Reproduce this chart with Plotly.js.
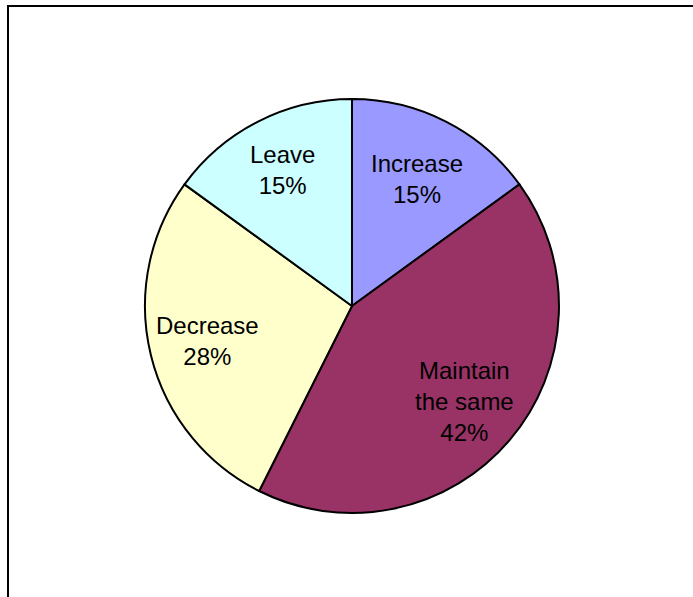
<!DOCTYPE html>
<html>
<head>
<meta charset="utf-8">
<script src="https://cdn.plot.ly/plotly-3.0.1.min.js"></script>
<style>
html,body{margin:0;padding:0;background:#fff;}
#chart{width:693px;height:597px;}
</style>
</head>
<body>
<div id="chart"></div>
<script>
var categories = ["Increase", "Maintain<br>the same", "Decrease", "Leave"];
var values = [15, 42.4, 27.6, 15];
var percentLabels = ["15%", "42%", "28%", "15%"];
var colors = ["#9999FF", "#993366", "#FFFFCC", "#CCFFFF"];

var W = 693, H = 597;
var dom = {x: [0.2092, 0.8066], y: [0.1407, 0.8342]};
var labelRadius = [0.69, 0.71, 0.72, 0.735];

var trace = {
  type: "pie",
  labels: categories,
  values: values,
  sort: false,
  direction: "clockwise",
  rotation: 0,
  marker: {colors: colors, line: {color: "#000000", width: 2}},
  textinfo: "none",
  hoverinfo: "none",
  showlegend: false,
  domain: dom
};

// label annotations placed at the mid-angle of each slice
var total = values.reduce(function(a, b){ return a + b; }, 0);
var cxPx = (dom.x[0] + dom.x[1]) / 2 * W;
var cyPx = (1 - (dom.y[0] + dom.y[1]) / 2) * H;
var rPx = Math.min((dom.x[1] - dom.x[0]) * W, (dom.y[1] - dom.y[0]) * H) / 2;
var annotations = [];
var cum = 0;
for (var i = 0; i < values.length; i++) {
  var mid = (cum + values[i] / 2) / total * 2 * Math.PI;
  cum += values[i];
  var px = cxPx + labelRadius[i] * rPx * Math.sin(mid);
  var py = cyPx - labelRadius[i] * rPx * Math.cos(mid);
  annotations.push({
    xref: "paper", yref: "paper",
    x: px / W, y: 1 - py / H,
    xanchor: "center", yanchor: "middle",
    text: categories[i] + "<br>" + percentLabels[i],
    showarrow: false,
    align: "center",
    font: {family: "Liberation Sans, Arial, sans-serif", size: 24, color: "#000000"}
  });
}

var layout = {
  width: W,
  height: H,
  margin: {l: 0, r: 0, t: 0, b: 0},
  paper_bgcolor: "#ffffff",
  showlegend: false,
  annotations: annotations,
  shapes: [{
    type: "rect", xref: "paper", yref: "paper",
    x0: 8/693, x1: 1.05, y0: -0.05, y1: 1 - 6/597,
    line: {color: "#000000", width: 2}, fillcolor: "rgba(0,0,0,0)"
  }]
};

Plotly.newPlot("chart", [trace], layout, {staticPlot: true});
</script>
</body>
</html>
